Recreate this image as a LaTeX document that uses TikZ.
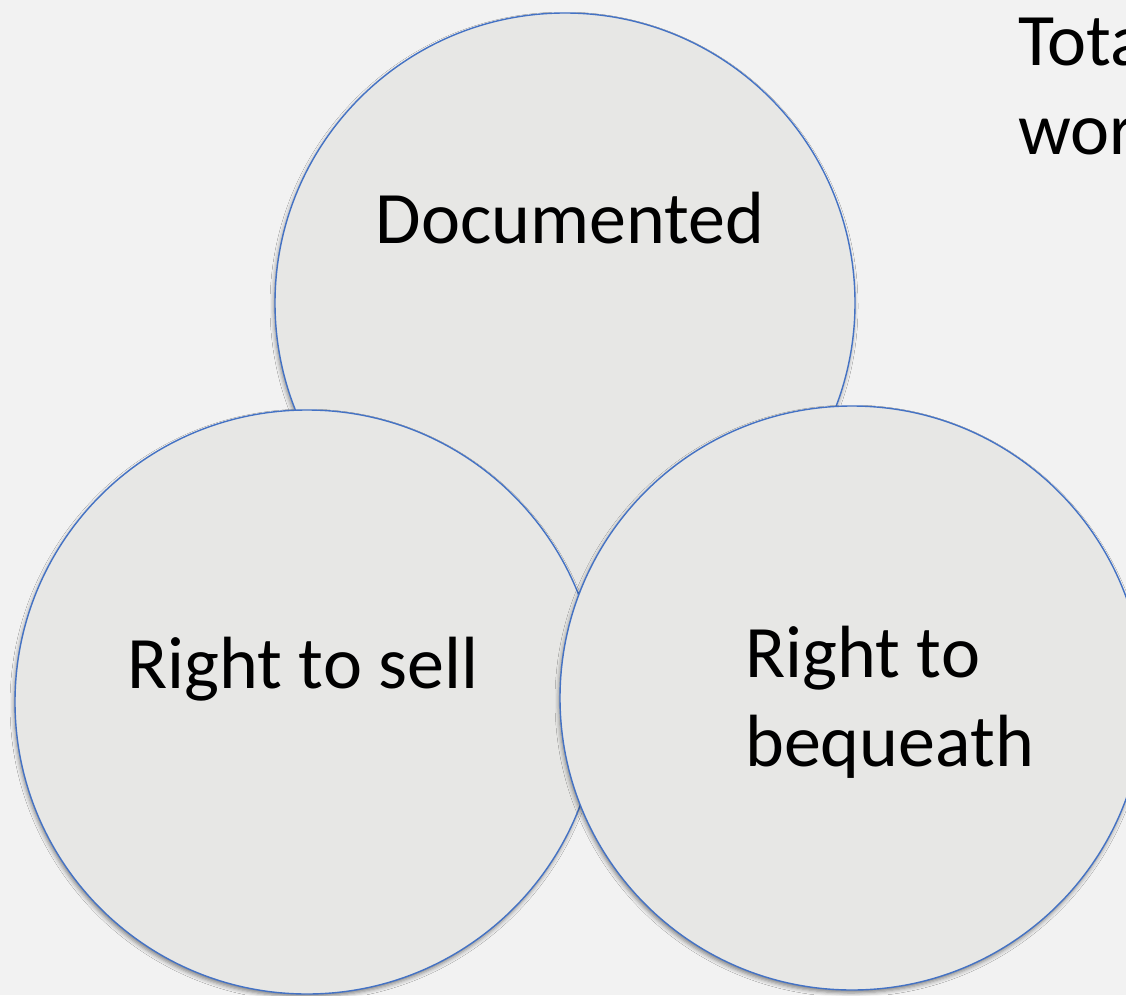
\documentclass[tikz,border=0pt]{standalone}
\usepackage{fontspec}
\setmainfont{Carlito}
\usetikzlibrary{shadows.blur}

\definecolor{pagebg}{RGB}{242,242,242}
\definecolor{discfill}{RGB}{231,231,229}
\definecolor{discline}{RGB}{68,114,196}

\tikzset{
	disc/.style={circle, draw=discline, line width=1.4pt, fill=discfill,
		minimum size=#1, inner sep=0pt,
		blur shadow={shadow xshift=-1pt, shadow yshift=-3pt, shadow blur radius=4pt, shadow opacity=45}},
	ringtext/.style={font=\fontsize{74}{89}\selectfont, inner sep=0pt}
}

\begin{document}
\begin{tikzpicture}[x=1pt,y=-1pt]%[show background grid]

	\fill[pagebg] (0,0) rectangle (1126,995);
	\clip (0,0) rectangle (1126,995);

	\node[disc=580pt] (documented) at (565,303) {};
	\node[disc=584pt] (sell) at (307,702) {};
	\node[disc=584pt] (bequeath) at (852,698) {};

	\node[ringtext, anchor=base] (documentedText) at (570,243) {Documented};
	\node[ringtext, anchor=base] (sellText) at (303,688) {Right to sell};
	\node[ringtext, anchor=base west, align=left] (bequeathText) at (745,766) {Right to\\bequeath};
	\node[ringtext, anchor=base west, align=left] (totalText) at (1018,155) {Tota\\wor};

\end{tikzpicture}
\end{document}
